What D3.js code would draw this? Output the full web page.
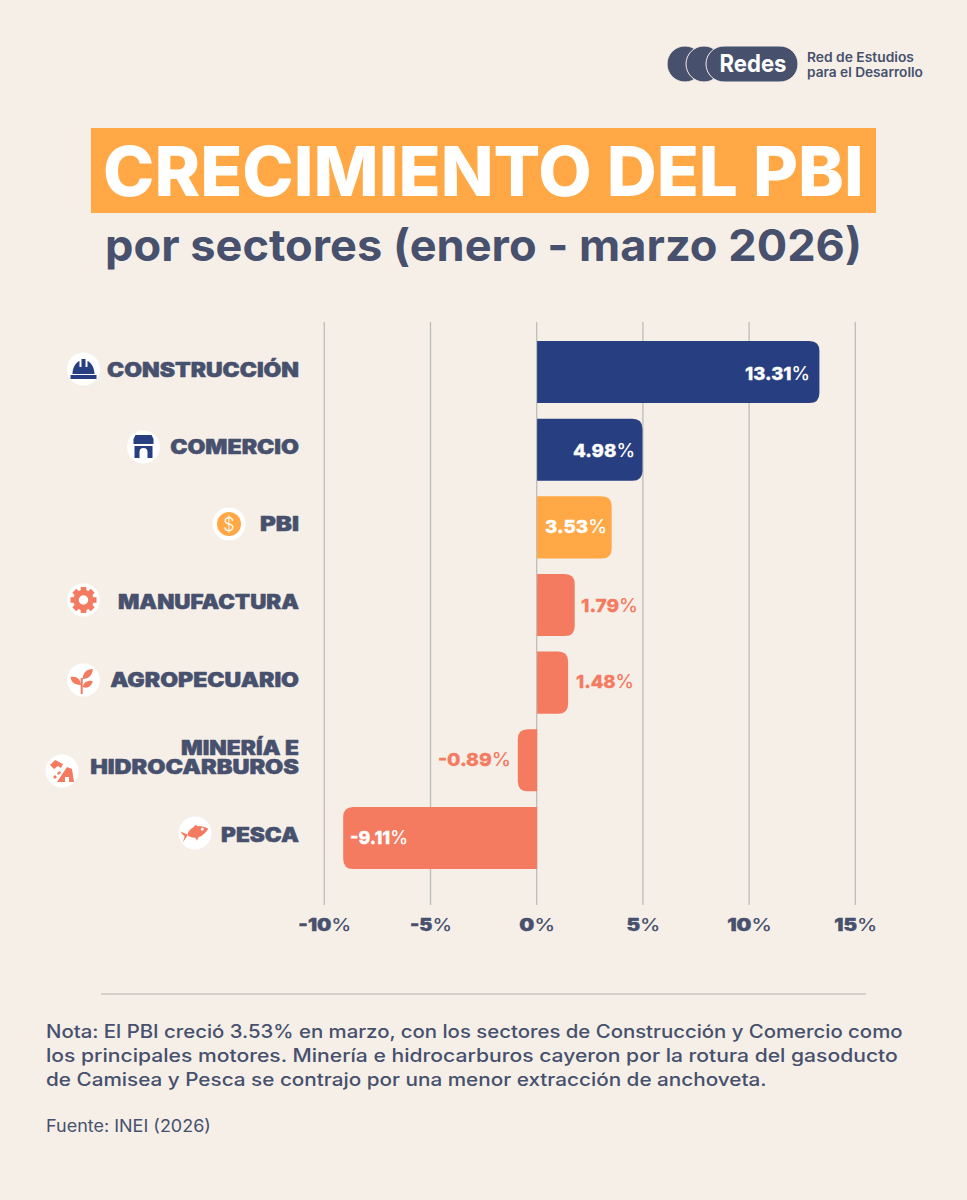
<!DOCTYPE html>
<html><head><meta charset="utf-8">
<script src="https://cdnjs.cloudflare.com/ajax/libs/d3/7.8.5/d3.min.js"></script>
<style>html,body{margin:0;padding:0;background:#f5efe8}svg{display:block}text{font-family:Inter,sans-serif}</style>
</head><body><svg id="c" width="967" height="1200"></svg>
<script>
const categories=["CONSTRUCCIÓN","COMERCIO","PBI","MANUFACTURA","AGROPECUARIO","MINERÍA E|HIDROCARBUROS","PESCA"];
const values=[13.31,4.98,3.53,1.79,1.48,-0.89,-9.11];
const groups=["lead","lead","total","rest","rest","rest","rest"];
const tickValues=[-10,-5,0,5,10,15];
const noteLines=["Nota: El PBI creció 3.53% en marzo, con los sectores de Construcción y Comercio como","los principales motores. Minería e hidrocarburos cayeron por la rotura del gasoducto","de Camisea y Pesca se contrajo por una menor extracción de anchoveta."];
const source="Fuente: INEI (2026)";
const titleText="CRECIMIENTO DEL PBI", subtitleText="por sectores (enero - marzo 2026)";

// layout, kept apart from the data
const catWidths=[[192],[129],[39],[181],[189],[118,209],[78]];
const catBases=[[376.5],[454],[531],[609],[687],[755,774],[842]];
const valLeft=[745,573,545,581,576,438,350];
const valWidth=[65,62,62,57,58,73,58];
const valBase=[380,457,533,612,688,766,844];
const tickWidth=[53,42,36,34,45,43];
const noteWidths=[857,852,721];

const BG="#f5efe8",SLATE="#47506d",GRID="#bdbcb9";
const color=d3.scaleOrdinal(["lead","total","rest"],["#273e80","#ffa845","#f47a60"]);
const svg=d3.select("#c");
svg.append("rect").attr("width",967).attr("height",1200).attr("fill",BG);
const x=d3.scaleLinear([-10,15],[324.3,855.3]);
const y=d3.scaleBand(d3.range(categories.length),[341,869]).paddingInner(0.2);

// real text, stretched horizontally to a given span
function put(g,str,x0,base,size,weight,fill,width,anchor,bold){
  const t=g.append("text").attr("font-size",size).attr("font-weight",weight).attr("fill",fill).attr("text-anchor",anchor||"start");
  if(bold) t.attr("stroke",fill).attr("stroke-width",bold).attr("stroke-linejoin","round");
  if(Array.isArray(str)){t.append("tspan").text(str[0]);t.append("tspan").attr("font-weight",500).attr("stroke-width",0).text(str[1]);}
  else t.text(str);
  const sx=width?width/t.node().getComputedTextLength():1;
  t.attr("transform",`translate(${x0},${base}) scale(${sx},1)`);
  return t;
}

// logo
const logo=svg.append("g");
[685,704].forEach(cx=>logo.append("circle").attr("cx",cx).attr("cy",64).attr("r",18).attr("fill",SLATE).attr("stroke",BG).attr("stroke-width",1));
logo.append("rect").attr("x",706).attr("y",46).attr("width",92).attr("height",36).attr("rx",18).attr("fill",SLATE).attr("stroke",BG).attr("stroke-width",1);
put(logo,"Redes",719.5,71.7,24,700,"#fff",67);
put(logo,"Red de Estudios",807,62,13,600,SLATE,107);
put(logo,"para el Desarrollo",807,77,13,600,SLATE,116);

// title
svg.append("rect").attr("x",91).attr("y",128).attr("width",785).attr("height",85).attr("fill","#ffa845");
put(svg,titleText,103,195.5,69,800,"#fff",761);
put(svg,subtitleText,105,260.5,44,700,SLATE,757);

// grid + axis
const grid=svg.append("g");
tickValues.forEach(v=>grid.append("line").attr("x1",x(v)).attr("x2",x(v)).attr("y1",322).attr("y2",905).attr("stroke",GRID).attr("stroke-width",1.3));
const ax=svg.append("g").attr("transform","translate(0,906)").call(d3.axisBottom(x).tickValues(tickValues).tickSize(0).tickPadding(0).tickFormat(""));
ax.select(".domain").remove();
ax.selectAll(".tick").each(function(d,i){
  const s=d3.select(this);s.select("text").remove();
  put(s,[String(d),"%"],0,24.7,17,900,SLATE,tickWidth[i],"middle",0.4);
});

// bars
const r=10;
const barPath=(v,i)=>{
  const p=d3.path(),x0=x(0)+0.4,x1=x(v),t=y(i),b=t+y.bandwidth(),s=v>=0?1:-1;
  p.moveTo(x0,t);p.lineTo(x1-s*r,t);p.quadraticCurveTo(x1,t,x1,t+r);
  p.lineTo(x1,b-r);p.quadraticCurveTo(x1,b,x1-s*r,b);p.lineTo(x0,b);p.closePath();
  return p.toString();
};
svg.append("g").selectAll("path").data(values).join("path")
  .attr("d",barPath).attr("fill",(d,i)=>color(groups[i]));

// value labels
const vg=svg.append("g");
values.forEach((v,i)=>{
  const outside=Math.abs(v)<3;
  put(vg,[v.toFixed(2),"%"],valLeft[i],valBase[i],18,800,outside?color(groups[i]):"#fff",valWidth[i],"start",0.3);
});

// category labels
const cg=svg.append("g");
categories.forEach((c,i)=>{
  c.split("|").forEach((l,k)=>put(cg,l,299,catBases[i][k],19.5,900,SLATE,catWidths[i][k],"end",0.5));
});

// icons
const icons=[
 {cx:83.5,cy:369,c:"#273e80",d:"M-13 6H13V10H-13ZM-11 5C-11 -2 -7 -7 -4 -8V-2H-2V-10H2V-2H4V-8C7 -7 11 -2 11 5Z"},
 {cx:143.5,cy:447,c:"#273e80",d:"M-8 -12H8L10 -8V-3H-10V-8ZM-9 -1H9V11H4V5A4 4 0 0 0 -4 5V11H-9Z"},
 {cx:229,cy:524,c:"#ffa845",circle:true},
 {cx:83.5,cy:600,c:"#f47a60",gear:true},
 {cx:81.7,cy:680,c:"#f47a60",d:"M-1 14V-2H1V14ZM-1 5C-8 5 -11 1 -11 -3C-5 -4 -1 -1 -1 5ZM1 -1C1 -7 5 -11 11 -11C11 -5 7 -1 1 -1ZM1 7C2 2 6 0 11 1C10 6 6 9 1 7Z"},
 {cx:62,cy:771,c:"#f47a60",d:"M-5 11L5 -4L10 -2L12 11H7V6H3V11ZM-12 -6L-7 -11L1 -7L-1 -3L-4 -5L-8 -2ZM-5 2L-2 0L-1 2L-4 4ZM-9 6L-7 4L-5 6L-7 8Z"},
 {cx:195,cy:833,c:"#f47a60",rot:-14,eye:[8,-2],d:"M-8 0C-3 -8 6 -8 14 -1C7 6 -3 7 -8 0ZM-7 0L-14 -5L-11 1L-14 6ZM-2 -5L3 -8L4 -5ZM-1 4L3 4L0 8Z"}
];
icons.forEach(ic=>{
  const g=svg.append("g").attr("transform",`translate(${ic.cx},${ic.cy})`);
  g.append("circle").attr("cx",ic.cx===81.7?1.8:0).attr("r",16.5).attr("fill","#fff");
  if(ic.circle){
    g.append("circle").attr("r",12).attr("fill",ic.c);
    g.append("text").attr("text-anchor","middle").attr("y",6.5).attr("font-size",18).attr("font-weight",300).attr("fill","#fff").text("$");
  }else if(ic.gear){
    d3.range(8).forEach(k=>g.append("rect").attr("x",-2.8).attr("y",-13).attr("width",5.6).attr("height",6).attr("fill",ic.c).attr("transform",`rotate(${k*45})`));
    g.append("circle").attr("r",7.5).attr("fill","none").attr("stroke",ic.c).attr("stroke-width",5.5);
  }else{
    const h=g.append("g").attr("transform",`rotate(${ic.rot||0})`);
    h.append("path").attr("d",ic.d).attr("fill",ic.c);
    if(ic.eye)h.append("circle").attr("cx",ic.eye[0]).attr("cy",ic.eye[1]).attr("r",1.5).attr("fill","#fff");
  }
});

// footer
svg.append("line").attr("x1",101).attr("x2",866).attr("y1",994).attr("y2",994).attr("stroke","#c9c7c1").attr("stroke-width",1.6);
const f=svg.append("g");
const bases=[1038,1062,1085.5];
noteLines.forEach((l,i)=>put(f,l,46,bases[i],18,500,SLATE,noteWidths[i]));
put(f,source,46,1131.5,17,400,SLATE,165);
</script></body></html>
